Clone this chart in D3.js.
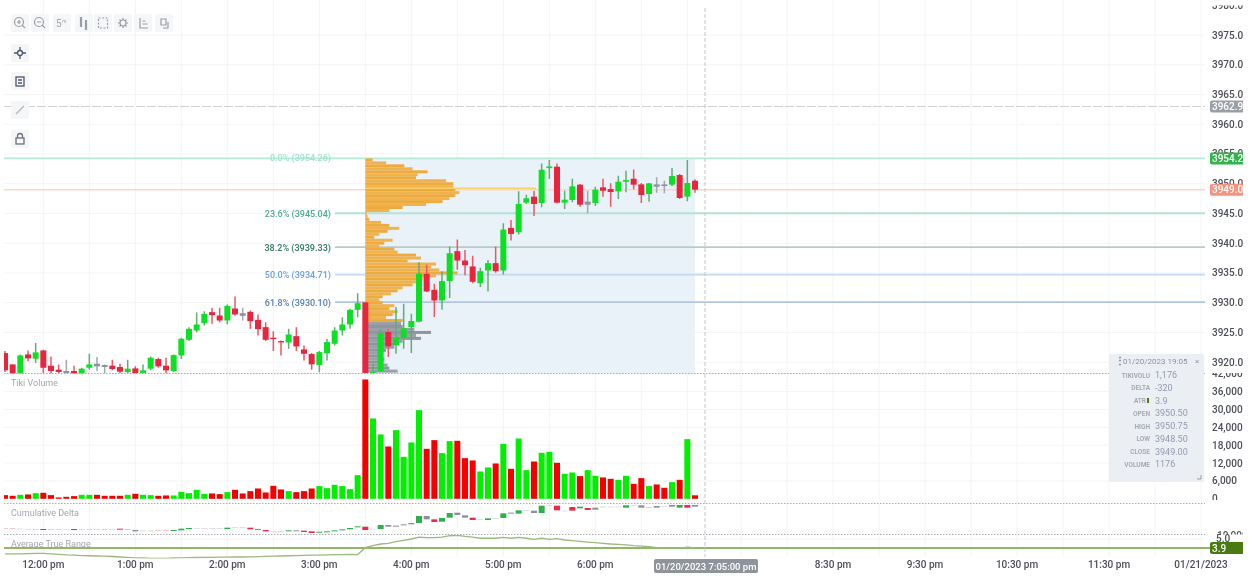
<!DOCTYPE html>
<html><head><meta charset="utf-8">
<script src="https://cdn.jsdelivr.net/npm/d3@7/dist/d3.min.js"></script>
<style>html,body{margin:0;padding:0;background:#fff;overflow:hidden}svg{display:block;filter:blur(.6px);font-family:Roboto,sans-serif}</style>
</head><body><svg id="c" width="1250" height="577"></svg>
<script>
const opens=[3921.53,3919.63,3918.07,3921.31,3920.58,3921.98,3919.41,3918.74,3918.52,3918.52,3918.07,3919.07,3919.75,3919.52,3919.41,3919.19,3918.35,3918.96,3918.18,3918.91,3920.53,3919.41,3918.52,3921.14,3923.77,3925.33,3926.56,3928.41,3927.85,3927.01,3929.02,3928.24,3928.47,3927.12,3925.89,3924.11,3923.55,3923.32,3924.38,3922.15,3921.37,3919.52,3921.53,3923.10,3925.33,3926.34,3928.80,3930.05,3918.20,3918.48,3925.07,3922.84,3924.12,3925.91,3926.81,3934.86,3932.17,3930.38,3933.63,3938.66,3937.09,3936.09,3933.29,3935.42,3936.65,3935.42,3942.57,3941.84,3946.82,3947.83,3946.76,3952.63,3952.86,3946.82,3947.27,3949.84,3946.48,3946.76,3949.39,3949.11,3948.72,3950.34,3950.84,3949.89,3948.27,3949.89,3949.89,3949.84,3951.46,3947.83,3950.50];
const highs=[3921.87,3919.63,3921.31,3921.98,3923.21,3922.09,3920.97,3919.63,3920.42,3919.41,3919.07,3921.42,3920.86,3919.63,3920.42,3919.75,3920.42,3919.30,3919.63,3920.97,3920.75,3920.75,3921.31,3924.11,3925.89,3928.35,3928.58,3929.14,3929.14,3929.70,3931.04,3929.14,3928.69,3928.02,3926.73,3925.22,3923.66,3925.61,3925.89,3922.82,3921.53,3921.87,3923.88,3925.89,3927.57,3928.97,3931.60,3930.05,3919.76,3925.63,3925.63,3929.27,3929.83,3928.15,3936.81,3936.37,3933.18,3935.30,3939.44,3940.61,3938.88,3937.88,3935.86,3937.20,3939.44,3943.35,3943.91,3948.72,3948.16,3948.83,3953.42,3953.97,3953.42,3948.83,3950.84,3949.95,3948.83,3949.50,3950.84,3950.06,3951.35,3952.19,3952.41,3950.12,3950.12,3951.07,3950.51,3952.63,3951.63,3953.97,3950.75];
const lows=[3918.35,3918.07,3918.07,3920.14,3919.86,3918.18,3918.07,3918.07,3918.07,3918.07,3918.07,3918.74,3918.52,3918.07,3918.63,3918.18,3918.07,3918.07,3918.07,3918.63,3919.07,3918.18,3918.35,3920.53,3923.55,3925.05,3926.17,3926.45,3926.73,3926.34,3927.79,3927.01,3925.61,3924.50,3923.55,3921.87,3921.14,3922.26,3921.87,3920.30,3918.74,3918.29,3920.30,3922.82,3924.50,3925.61,3927.57,3918.20,3918.20,3918.37,3920.88,3921.44,3922.28,3921.55,3926.70,3931.78,3927.59,3928.82,3930.78,3935.53,3934.63,3933.29,3932.62,3931.89,3935.02,3934.75,3940.45,3941.45,3946.60,3944.58,3946.04,3950.79,3946.71,3945.76,3946.88,3946.15,3945.03,3946.26,3947.83,3946.15,3947.43,3948.55,3949.06,3946.76,3946.99,3948.50,3948.38,3949.61,3947.43,3947.04,3948.50];
const closes=[3918.63,3918.07,3921.14,3920.64,3921.65,3919.07,3918.52,3918.35,3918.18,3918.07,3918.91,3919.63,3919.30,3919.19,3918.85,3918.40,3918.91,3918.18,3918.63,3920.75,3919.30,3918.63,3921.20,3923.94,3925.61,3926.34,3928.13,3927.91,3927.01,3929.47,3928.02,3927.79,3926.90,3925.56,3923.77,3923.88,3923.32,3924.66,3922.65,3921.42,3919.63,3921.70,3923.38,3925.33,3926.34,3928.80,3929.92,3918.20,3918.37,3924.91,3922.67,3924.12,3925.69,3926.92,3934.86,3931.89,3930.38,3933.63,3938.32,3937.09,3936.31,3933.52,3935.30,3936.65,3935.30,3942.29,3941.56,3946.60,3947.55,3946.60,3952.35,3952.91,3946.82,3947.32,3949.56,3946.48,3946.99,3949.00,3948.83,3948.61,3950.34,3950.62,3949.84,3948.11,3950.06,3949.50,3949.61,3951.29,3947.60,3950.12,3949.00];
const dojiBars=[8,12,13,31,76,85,86];
const volumes=[1230,1010,1340,1460,1900,2020,1230,450,670,900,1340,1340,1340,1010,1010,1010,1340,1680,1340,1230,1010,1120,1120,2350,1900,3020,1680,1790,1570,2240,3020,1790,2580,3470,2130,4370,3140,2580,2240,2580,3470,4260,3580,4700,4260,3250,7950,40100,26990,21620,17580,23070,14110,18930,29790,16800,19710,15340,19380,19490,13660,12880,9180,10530,11870,18480,10080,20270,9630,12540,15460,15790,12100,8400,8850,7620,9630,7730,7170,6720,6380,7730,5040,6940,4260,4820,3700,5600,6380,20050,1176];
const deltaHi=[19440,19440,18890,17780,17780,18330,17780,17780,17780,18330,17780,17780,17780,17780,17780,18890,18330,16660,15550,15550,16110,16110,16660,18890,20000,19440,19440,19440,19440,20550,21110,21110,20550,18330,16660,14440,15000,16110,16110,15550,14440,13890,14440,16110,17780,20000,22780,22220,17220,25000,25000,23890,26110,28330,40000,40000,34440,36670,45000,45560,41110,37220,34440,36110,36670,44440,45560,49440,49440,48890,57220,57780,57220,48890,55000,55550,53330,53890,55550,55550,55550,57780,57780,57780,55000,56670,56670,58330,58330,58330,58330];
const deltaLo=[18890,18890,18330,17220,17220,16660,17220,17220,17220,16660,16660,17220,17220,17220,17220,17220,17220,14440,15000,15000,15550,15550,15000,16110,18330,18890,18890,18890,18330,18330,20550,20000,17780,16660,14440,13890,14440,14440,14440,13330,11660,12220,12780,14440,16110,17780,21110,16660,16660,18330,22220,22220,24440,26110,28330,34440,30000,30550,37220,41670,37220,33330,33890,33330,35560,36670,43890,43890,48890,45000,45000,57220,49440,48330,48890,52780,50000,50550,54440,55000,55000,53890,57220,53890,54440,53890,56110,55550,53890,53890,55550];
const deltaDir="d d n n u d d u n d u u n d n d d n u u d d u u u n n n n u n n d n d n u u n d d u u u u u u d n u n n n n u n d u u n n d n u n u n u n n u n d n d u d n u n n u n n d n n n u d n n".split(" ");
const atrValues=[3.17,3.17,3.19,3.21,3.24,3.25,3.19,3.13,3.07,3.04,2.98,2.95,2.92,2.90,2.86,2.80,2.75,2.70,2.68,2.64,2.64,2.64,2.68,2.70,2.73,2.74,2.75,2.76,2.78,2.79,2.80,2.80,2.82,2.85,2.87,2.90,2.92,2.95,2.97,3.00,3.02,3.04,3.07,3.09,3.10,3.13,3.10,3.94,4.18,4.39,4.47,4.67,4.84,5.00,5.24,5.16,5.16,5.24,5.40,5.45,5.33,5.24,5.09,5.09,5.09,5.21,5.09,5.21,5.09,4.96,5.09,4.96,5.04,4.88,4.79,4.72,4.63,4.55,4.47,4.39,4.35,4.27,4.18,4.14,4.06,3.94,3.86,3.86,3.86,3.99,3.90];
const profileValues=[730,2070,3900,4730,6230,5230,5070,8070,8800,8800,9000,9400,9000,8400,7730,6070,3730,2400,130,230,400,1570,2400,3400,2230,1400,900,2730,1900,1400,2900,3230,5070,5570,4230,7070,6570,7400,9230,7070,5730,5230,4730,3730,3230,2570,1730,1400,1730,2900,2400,3230,2730,2070,3730,3570,3730,4900,6570,5070,5570,3730,2900,2900,2070,1730,1400,1900,1400,2230,2400,3230];
const profileTopPrice=3954, profileStep=.5, valueAreaLow=3927;
const priceTicks=[3980,3975,3970,3965,3960,3955,3950,3945,3940,3935,3930,3925,3920];
const volumeTicks=[42000,36000,30000,24000,18000,12000,6000,0];
const timeTickBars=[5,17,29,41,53,65,77,108,120,132,144,156];
const timeTickLabels=["12:00 pm","1:00 pm","2:00 pm","3:00 pm","4:00 pm","5:00 pm","6:00 pm","8:30 pm","9:30 pm","10:30 pm","11:30 pm","01/21/2023"];
const gridBars=[-1,5,11,17,23,29,35,41,47,53,59,65,71,77,83,89,96,102,108,114,120,126,132,138,144,150,156];
const fibPrices=[3954.26,3945.04,3939.33,3934.71,3930.10];
const fibLabels=["0.0% (3954.26)","23.6% (3945.04)","38.2% (3939.33)","50.0% (3934.71)","61.8% (3930.10)"];
const fibLine=["#b4ead6","#b2e2d4","#b6cdc6","#c4d9f2","#b3c5de"];
const fibText=["#9fe3cb","#4dab90","#3c8068","#6b9fe0","#5580b4"];
const tipLabels=["TIKIVOLU","DELTA","ATR","OPEN","HIGH","LOW","CLOSE","VOLUME"];
const tipValues=["1,176","-320","3.9","3950.50","3950.75","3948.50","3949.00","1176"];
const lastPrice=3949, pocPrice=3949.25, markPrice=3962.98, rangeLow=3918.07, rangeHigh=3954.25, crossBar=91.3, atrLast=3.9;

const svg=d3.select("#c");
const x=d3.scaleLinear().domain([0,90]).range([5,695]);
const yP=d3.scaleLinear().domain([3975,3920]).range([35,362.2]);
const yV=d3.scaleLinear().domain([0,42000]).range([498.8,373.8]);
const yD=d3.scaleLinear().domain([10000,60000]).range([534,504]);
const yA=d3.scaleLinear().domain([5,3.9]).range([539,548]);
const prof=d3.scaleLinear().domain([0,10000]).range([0,100]);
const L=4,R=1205,B=557;
const defs=svg.append("defs");
const clip=(id,a,b,c,d)=>defs.append("clipPath").attr("id",id).append("rect").attr("x",a).attr("y",b).attr("width",c-a).attr("height",d-b);
clip("pl",L,0,R,373.5);clip("vl",1205,373,1243,500);clip("dl",1205,520,1243,534.5);clip("pa",1205,5.5,1243,372);clip("atr",L,535,R,558.5);clip("lo",L,374,R,540);

// grids
const g=svg.append("g").attr("stroke","#f3f4f6").attr("stroke-width",1);
g.selectAll(".v").data(gridBars).join("line").attr("x1",d=>x(d)).attr("x2",d=>x(d)).attr("y1",0).attr("y2",B);
g.selectAll(".p").data(priceTicks.slice(1)).join("line").attr("x1",L).attr("x2",R).attr("y1",d=>yP(d)).attr("y2",d=>yP(d));
g.selectAll(".q").data(volumeTicks.slice(0,-1)).join("line").attr("x1",L).attr("x2",R).attr("y1",d=>yV(d)).attr("y2",d=>yV(d));
g.append("line").attr("x1",L).attr("x2",R).attr("y1",539).attr("y2",539);

// range box
svg.append("rect").attr("x",x(47)).attr("width",x(90)-x(47)).attr("y",yP(rangeHigh)).attr("height",yP(rangeLow)-yP(rangeHigh)).attr("fill","#e9f1f9");

// price-level lines
const lvl=svg.append("g");
lvl.append("line").attr("x1",L).attr("x2",R).attr("y1",yP(lastPrice)).attr("y2",yP(lastPrice)).attr("stroke","#fbd5c9").attr("stroke-width",1.6);
lvl.append("line").attr("x1",L).attr("x2",R).attr("y1",yP(markPrice)).attr("y2",yP(markPrice)).attr("stroke","#cfd1d5").attr("stroke-dasharray","9 2");
fibPrices.forEach((p,i)=>{
 lvl.append("line").attr("x1",i?335:L).attr("x2",R).attr("y1",yP(p)).attr("y2",yP(p)).attr("stroke",fibLine[i]).attr("stroke-width",1.8);
 lvl.append("text").attr("x",331).attr("y",yP(p)+(i?3.5:3)).attr("text-anchor","end").attr("font-size",9).attr("font-weight",i==2?600:500).attr("fill",fibText[i]).text(fibLabels[i]);
});

// volume profile
const pg=svg.append("g").attr("clip-path","url(#pl)");
pg.selectAll("rect").data(profileValues).join("rect")
 .attr("x",x(47)).attr("width",d=>prof(d))
 .attr("y",(d,i)=>yP(profileTopPrice-i*profileStep)-1.5).attr("height",2.97)
 .attr("fill",(d,i)=>profileTopPrice-i*profileStep>=valueAreaLow?(i%2?"#efb24e":"#edab3e"):(i%2?"#9ba0a8":"#8f949d"));
pg.append("line").attr("x1",x(47)).attr("x2",536).attr("y1",yP(pocPrice)).attr("y2",yP(pocPrice)).attr("stroke","#f5d36a").attr("stroke-width",1.4);

// candles
const idx=d3.range(opens.length);
const cCol=i=>dojiBars.includes(i)?"#8e949e":closes[i]>=opens[i]?"#0ce024":"#e8253f";
const wCol=i=>dojiBars.includes(i)?"#a3a8b0":closes[i]>=opens[i]?"#5fae72":"#ee5568";
const cg=svg.append("g").attr("clip-path","url(#pl)");
cg.selectAll("line").data(idx).join("line").attr("x1",x).attr("x2",x).attr("y1",i=>yP(highs[i])).attr("y2",i=>yP(lows[i])).attr("stroke",wCol).attr("stroke-width",1.5);
cg.selectAll("rect").data(idx).join("rect").attr("x",i=>x(i)-3).attr("width",6)
 .attr("y",i=>yP(Math.max(opens[i],closes[i]))).attr("height",i=>Math.max(1.2,Math.abs(yP(opens[i])-yP(closes[i])))).attr("fill",cCol);

// separators
[373.5,503.5,534.5].forEach(y=>svg.append("line").attr("x1",L).attr("x2",R).attr("y1",y).attr("y2",y).attr("stroke","#a9acb1").attr("stroke-dasharray","1.5 1.5"));

// volume
svg.append("g").attr("clip-path","url(#lo)").selectAll("rect").data(idx).join("rect").attr("x",i=>x(i)-3).attr("width",6)
 .attr("y",i=>yV(volumes[i])).attr("height",i=>yV(0)-yV(volumes[i])).attr("fill",i=>closes[i]>=opens[i]?"#00f000":"#f50000");

// cumulative delta
const dCol={u:"#2fb04c",d:"#f0284e",n:"#8a909c"};
svg.append("g").attr("clip-path","url(#lo)").selectAll("rect").data(idx).join("rect").attr("x",i=>x(i)-3).attr("width",6)
 .attr("y",i=>yD(deltaHi[i])).attr("height",i=>Math.max(.6,yD(deltaLo[i])-yD(deltaHi[i])))
 .attr("fill",i=>dCol[deltaDir[i]]||dCol.n)
 .attr("opacity",i=>yD(deltaLo[i])-yD(deltaHi[i])<.8?.45:1);

// ATR
svg.append("line").attr("x1",L).attr("x2",1210).attr("y1",yA(atrLast)).attr("y2",yA(atrLast)).attr("stroke","#6f9e33").attr("stroke-width",1.3);
svg.append("path").attr("clip-path","url(#atr)").attr("fill","none").attr("stroke","#9cb97c").attr("stroke-width",1.3)
 .attr("d",d3.line().x((d,i)=>x(i)).y(d=>yA(d))(atrValues));

// crosshair
svg.append("line").attr("x1",x(crossBar)).attr("x2",x(crossBar)).attr("y1",8).attr("y2",B).attr("stroke","#c4c7cb").attr("stroke-dasharray","4 2");

// pane titles
[["Tiki Volume",386],["Cumulative Delta",516],["Average True Range",547]].forEach(([t,y])=>
 svg.append("text").attr("x",11).attr("y",y).attr("font-size",9).attr("fill","#a2a6ad").text(t));

// axes text
const axisText=(s,xp,yp)=>s.append("text").attr("x",xp).attr("y",yp).attr("font-size",10).attr("font-weight",500).attr("fill","#4b4e55");
const pa=svg.append("g").attr("clip-path","url(#pa)");
priceTicks.forEach(p=>axisText(pa,1212,yP(p)+3.5).text(d3.format(".2f")(p)));
const va=svg.append("g").attr("clip-path","url(#vl)");
volumeTicks.forEach(v=>axisText(va,1212,yV(v)+(v?3.5:3)).text(d3.format(",")(v)));
axisText(svg.append("g").attr("clip-path","url(#dl)"),1217,yD(10000)+5).text("10,000");
axisText(svg,1216,542).text("5.0");
timeTickBars.forEach((b,i)=>axisText(svg,x(b),567.5).attr("text-anchor","middle").text(timeTickLabels[i]));

// badges
const badge=(y,col,t,h)=>{svg.append("rect").attr("x",1210).attr("y",y-h/2).attr("width",40).attr("height",h).attr("rx",2).attr("fill",col);
 svg.append("text").attr("x",1212).attr("y",y+3.5).attr("font-size",10).attr("font-weight",500).attr("fill","#fff").text(t);};
badge(yP(markPrice),"#9a9ea6","3962.98",12);
badge(yP(rangeHigh),"#30b34a","3954.25",12);
badge(yP(lastPrice),"#f6917e","3949.00",12);
badge(yA(atrLast),"#4a7a10","3.9",12);
svg.append("rect").attr("x",1243).attr("y",0).attr("width",7).attr("height",577).attr("fill","#fff");

// time badge
svg.append("rect").attr("x",654).attr("y",559).attr("width",104).attr("height",14).attr("rx",2).attr("fill","#8f939a");
svg.append("text").attr("x",706).attr("y",569.5).attr("text-anchor","middle").attr("font-size",9.5).attr("font-weight",500).attr("fill","#fff").text("01/20/2023 7:05:00 pm");

// tooltip
const tp=svg.append("g");
tp.append("rect").attr("x",1109).attr("y",354).attr("width",95).attr("height",128).attr("rx",2).attr("fill","#ebeef2");
tp.append("text").attr("x",1115).attr("y",364).attr("font-size",10).attr("font-weight",700).attr("fill","#777").text("⋮");
tp.append("text").attr("x",1123).attr("y",364).attr("font-size",8).attr("fill","#8b92a3").text("01/20/2023 19:05");
tp.append("text").attr("x",1195).attr("y",364).attr("font-size",8).attr("fill","#8b92a3").text("×");
tipLabels.forEach((t,i)=>{const y=378+i*12.75;
 tp.append("text").attr("x",i==2?1146:1150).attr("y",y-.5).attr("text-anchor","end").attr("font-size",6.5).attr("font-weight",600).attr("fill","#a2a7b0").text(t);
 tp.append("text").attr("x",1155).attr("y",y).attr("font-size",9).attr("fill","#939ab0").text(tipValues[i]);});
tp.append("rect").attr("x",1147).attr("y",398).attr("width",2).attr("height",5).attr("fill","#4a7a10");
tp.append("path").attr("d","M1197 479h4v-4").attr("fill","none").attr("stroke","#9aa0aa");

// toolbar
const btn=(cx,cy)=>svg.append("rect").attr("x",cx-9).attr("y",cy-9).attr("width",18).attr("height",18).attr("rx",2).attr("fill","#f5f6f7");
[20,40,62,84,103,123,143,164].forEach(c=>btn(c,23));[53,81,110,139].forEach(c=>btn(20,c));
const ic=svg.append("g").attr("fill","none").attr("stroke","#9a9ea6").attr("stroke-width",1.2);
[20,40].forEach((c,i)=>{ic.append("circle").attr("cx",c-1).attr("cy",22).attr("r",4.5);ic.append("path").attr("d",`M${c+2} 25l3 3M${c-3} 22h4`+(i?"":`M${c-1} 20v4`));});
svg.append("text").attr("x",56).attr("y",27).attr("font-size",10).attr("fill","#a2a6ad").text("5");
svg.append("text").attr("x",62).attr("y",23).attr("font-size",5).attr("fill","#a2a6ad").text("m");
ic.append("path").attr("d","M81 17v10M86 20v10").attr("stroke-width",2.2);
ic.append("rect").attr("x",98.5).attr("y",18).attr("width",9).attr("height",10).attr("stroke-dasharray","2 1.5");
ic.append("circle").attr("cx",123).attr("cy",23).attr("r",3);
ic.append("path").attr("d","M123 18v2M123 26v2M118 23h2M126 23h2M119.5 19.5l1.5 1.5M126.5 19.5l-1.5 1.5M119.5 26.5l1.5-1.5M126.5 26.5l-1.5-1.5");
ic.append("path").attr("d","M140 18v10h8M142.500 21h3M142.500 24h5");
ic.append("path").attr("d","M161 19h5v6h-5zM168 22v6h-5");
const dk=svg.append("g").attr("fill","none").attr("stroke","#4d5568").attr("stroke-width",1.3);
dk.append("circle").attr("cx",20).attr("cy",53).attr("r",2.5);
dk.append("path").attr("d","M20 47v3M20 56v3M14 53h3M23 53h3");
dk.append("rect").attr("x",16).attr("y",77).attr("width",8).attr("height",9);
dk.append("path").attr("d","M18 80h4M18 83h4");
svg.append("path").attr("d","M16 114l8-8").attr("stroke","#b3b6bb").attr("stroke-width",1.2);
dk.append("rect").attr("x",16).attr("y",138).attr("width",8).attr("height",6).attr("stroke","#6a7080");
dk.append("path").attr("d","M17.500 138v-2a2.500 2.500 0 0 1 5 0v2").attr("stroke","#6a7080");
</script></body></html>
